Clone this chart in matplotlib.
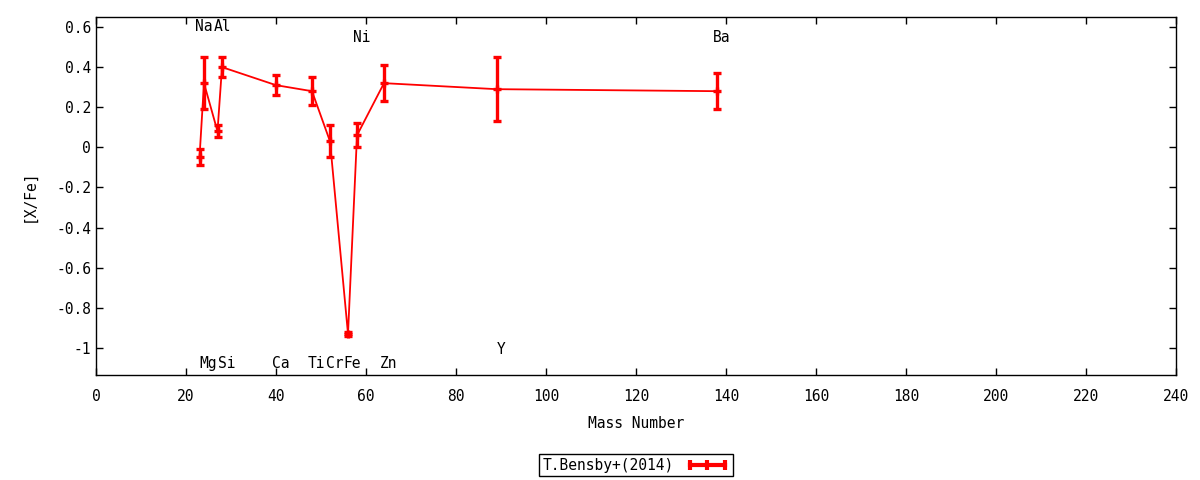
import matplotlib
matplotlib.use("Agg")
import matplotlib.pyplot as plt
from matplotlib.lines import Line2D
from matplotlib.legend_handler import HandlerLine2D, HandlerTuple
from matplotlib.ticker import FuncFormatter

# abundance ratios
elements = ['Na', 'Mg', 'Al', 'Si', 'Ca', 'Ti', 'Cr', 'Fe', 'Ni', 'Zn', 'Y', 'Ba']
mass = [23, 24, 27, 28, 40, 48, 52, 56, 58, 64, 89, 138]
x_fe = [-0.05, 0.32, 0.08, 0.40, 0.31, 0.28, 0.03, -0.93, 0.06, 0.32, 0.29, 0.28]
x_fe_err = [0.04, 0.13, 0.03, 0.05, 0.05, 0.07, 0.08, 0.01, 0.06, 0.09, 0.16, 0.09]
# height of each element label
label_y = [0.6, -1.08, 0.6, -1.08, -1.08, -1.08, -1.08, -1.08, 0.55, -1.08, -1.01, 0.55]

plt.rcParams['font.family'] = ['DejaVu Sans Mono']
plt.rcParams['font.size'] = 10.5

fig = plt.figure(figsize=(12, 4.8), dpi=100)
ax = fig.add_axes([0.08, 0.21875, 0.9, 0.7459])

ax.errorbar(mass, x_fe, yerr=x_fe_err, color='red', lw=1.3,
            elinewidth=2.4, capsize=3, capthick=2.4,
            marker='+', markersize=6, mew=2.4)

for el, m, ly in zip(elements, mass, label_y):
    ax.text(m + 1, ly, el, ha='center', va='center')

ax.set_xlim(0, 240)
ax.set_ylim(-1.135, 0.65)
ax.set_xticks(range(0, 241, 20))
ax.set_yticks([0.6, 0.4, 0.2, 0, -0.2, -0.4, -0.6, -0.8, -1])
ax.yaxis.set_major_formatter(FuncFormatter(lambda v, p: '%g' % round(v, 2)))
ax.tick_params(direction='in', top=True, right=True, length=5, width=1)
ax.tick_params(axis='x', pad=10)
for s in ax.spines.values():
    s.set_linewidth(1)

ax.set_xlabel('Mass Number', labelpad=9)
ax.set_ylabel('[X/Fe]', labelpad=14)

# gnuplot style key sample: horizontal bar with caps and centre tick
bar = Line2D([], [], color='red', lw=3, marker='|', markersize=7, mew=3)
mid = Line2D([], [], color='red', lw=0, marker='|', markersize=7, mew=3)
ax.legend([(bar, mid)], ['T.Bensby+(2014)'],
          handler_map={bar: HandlerLine2D(numpoints=2),
                       mid: HandlerLine2D(numpoints=1),
                       tuple: HandlerTuple(ndivide=1)},
          loc='center', bbox_to_anchor=(0.53, 0.031),
          bbox_transform=fig.transFigure, markerfirst=False,
          fancybox=False, edgecolor='black', framealpha=1,
          handlelength=3, borderpad=0.25, handletextpad=0.8)
leg = ax.get_legend()
leg.get_frame().set_linewidth(1)

fig.savefig('out.png', dpi=100)
